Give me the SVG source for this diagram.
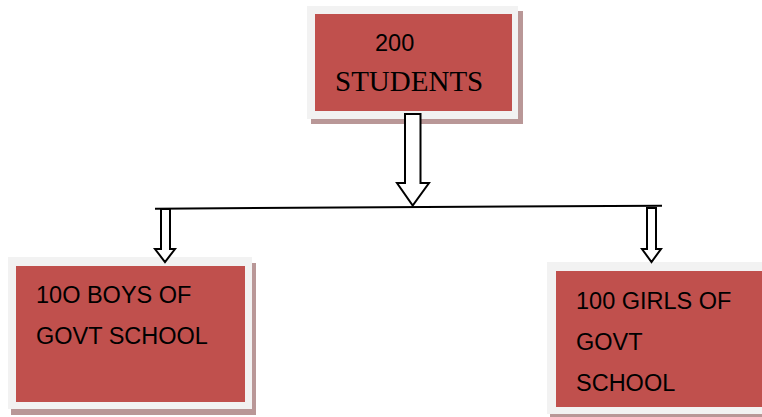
<svg xmlns="http://www.w3.org/2000/svg" width="762" height="417" viewBox="0 0 762 417">
<style>
.shadow{fill:#b99797}
.frame{fill:#f2f2f2}
.box{fill:#c0504d}
.sans{font-family:"Liberation Sans","Open Sans",Arial,sans-serif;font-size:23.5px;fill:#000}
.serif{font-family:"Liberation Serif","Times New Roman",serif;fill:#000}
.arrow{fill:#fff;stroke:#000;stroke-width:2;stroke-linejoin:miter}
</style>
<rect width="762" height="417" fill="#fff"/>
<g id="top">
<rect class="shadow" x="311" y="11" width="212" height="113"/>
<rect class="frame" x="307" y="6" width="211" height="113"/>
<rect class="box" x="315" y="14" width="197" height="97"/>
<text class="sans" x="375" y="51" font-size="25">200</text>
<text class="serif" x="335" y="90.5" font-size="29">STUDENTS</text>
</g>
<g id="boys">
<rect class="shadow" x="11" y="263" width="245" height="152"/>
<rect class="frame" x="8" y="257" width="244" height="152"/>
<rect class="box" x="16" y="266" width="229" height="136"/>
<text class="sans" x="36" y="303">10O BOYS OF</text>
<text class="sans" x="36" y="344">GOVT SCHOOL</text>
</g>
<g id="girls">
<rect class="shadow" x="550" y="268" width="215" height="152"/>
<rect class="frame" x="547" y="262" width="218" height="152"/>
<rect class="box" x="556" y="271" width="210" height="136"/>
<text class="sans" x="576" y="308.5">100 GIRLS OF</text>
<text class="sans" x="576" y="350">GOVT</text>
<text class="sans" x="576" y="391">SCHOOL</text>
</g>
<g id="connectors">
<line x1="155" y1="208.7" x2="662" y2="205.7" stroke="#000" stroke-width="2"/>
<polygon class="arrow" points="405,114 420.5,114 420.5,183 429,183 412.7,205.5 397,183 405,183"/>
<polygon class="arrow" points="161,209 170,209 170,249 175,249 165,262 155,249 161,249"/>
<polygon class="arrow" points="647,208 656,208 656,249 661,249 651.5,262 642,249 647,249"/>
</g>
</svg>
